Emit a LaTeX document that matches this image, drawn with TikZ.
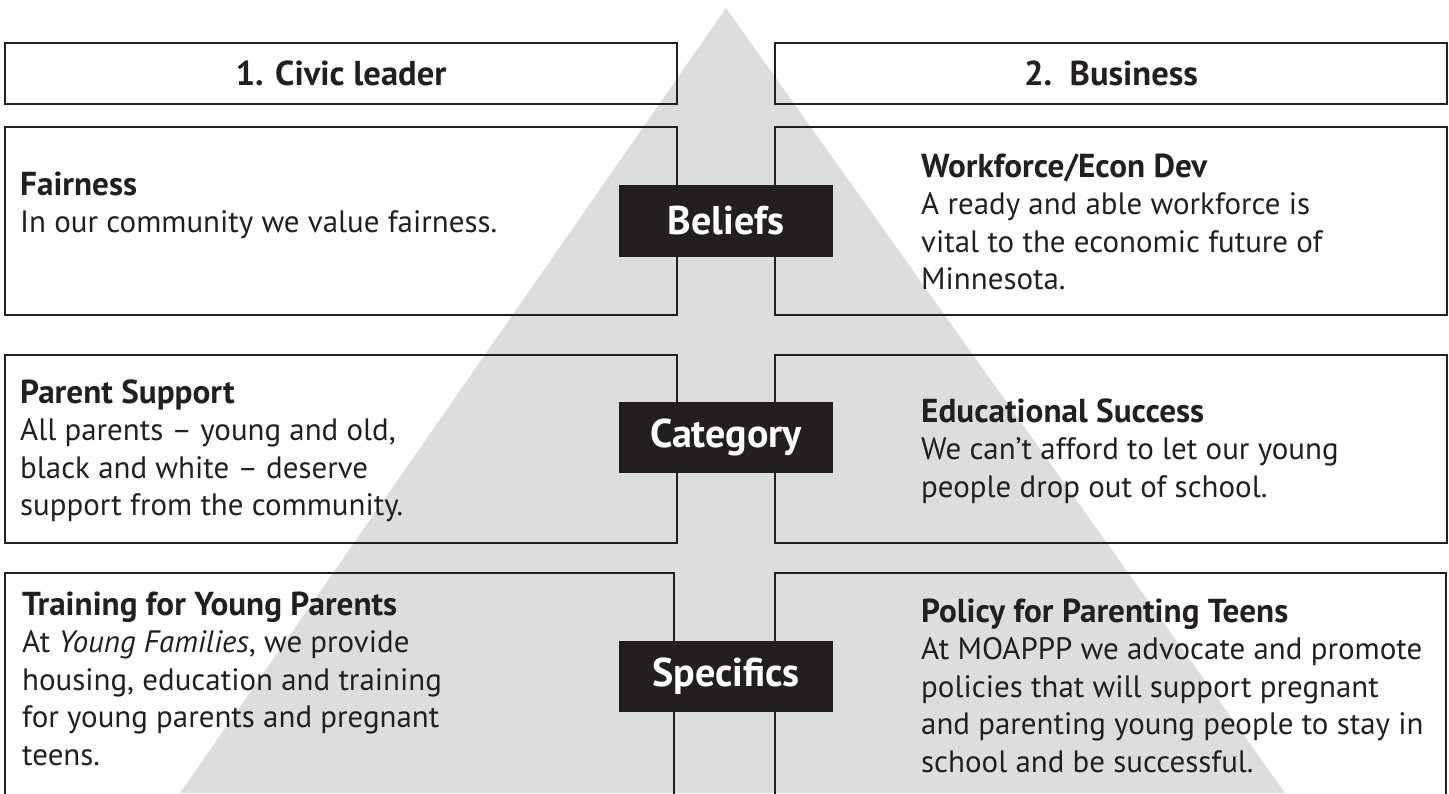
\documentclass[tikz,border=0pt]{standalone}
\usepackage{fontspec}
\setmainfont{PT Sans}
\definecolor{ink}{HTML}{231F20}
\definecolor{pyr}{HTML}{DCDDDF}
\newlength\calw
\newcommand\calib[4]{\settowidth\calw{\normalfont\fontsize{10pt}{12pt}\selectfont #2#3}\pgfmathsetmacro#1{10*#4/\calw}}
\newcommand\bodyfont{\normalfont\fontsize{\bsz pt}{37.6pt}\selectfont}
\newcommand\headfont{\normalfont\bfseries\fontsize{\hsz pt}{37.6pt}\selectfont}
\newcommand\labfont{\normalfont\bfseries\fontsize{\lsz pt}{40pt}\selectfont}
\newcommand\hdrfont{\normalfont\bfseries\fontsize{\tsz pt}{40pt}\selectfont}
\newcommand\blk[1]{\vtop{\baselineskip=37.6pt\lineskiplimit=-50pt\lineskip=0pt #1}}
\newcommand\hdl[1]{\hbox{\headfont #1}}
\newcommand\bdl[1]{\hbox{\bodyfont #1}}
\begin{document}
\calib\bsz{}{In our community we value fairness.}{477}%
\calib\hsz{\bfseries}{Training for Young Parents}{375}%
\calib\lsz{\bfseries}{Category}{152}%
\calib\tsz{\bfseries}{1. Civic leader}{211}%
\begin{tikzpicture}[x=1pt,y=-1pt,
  box/.style={draw=ink,line width=2pt,inner sep=0pt},
  lab/.style={fill=ink,text=white,minimum width=214pt,inner sep=0pt,font=\labfont},
  txt/.style={anchor=base west,inner sep=0pt,text=ink},
  hdr/.style={anchor=center,inner sep=0pt,text=ink,font=\hdrfont}]
\useasboundingbox (0,0) rectangle (1449,793);
\clip (0,0) rectangle (1449,793);
% pyramid
\fill[pyr] (726,8) -- (1285,793) -- (180,793) -- cycle;
% boxes
\node[box,minimum width=672pt,minimum height=61pt] (h1) at (341,73.5) {};
\node[box,minimum width=672pt,minimum height=61pt] (h2) at (1111,73.5) {};
\node[box,minimum width=672pt,minimum height=188pt] (b1) at (341,221) {};
\node[box,minimum width=672pt,minimum height=188pt] (b2) at (1111,221) {};
\node[box,minimum width=672pt,minimum height=188pt] (c1) at (341,449) {};
\node[box,minimum width=672pt,minimum height=188pt] (c2) at (1111,449) {};
\node[box,minimum width=669pt,minimum height=267pt] (s1) at (339.5,706.5) {};
\node[box,minimum width=671pt,minimum height=267pt] (s2) at (1110.5,706.5) {};
% headers
\node[hdr] (t1) at (h1.center) {1. Civic leader};
\node[hdr] (t2) at (h2.center) {2.\ \ Business};
% labels
\node[lab,minimum height=72pt] (lb) at (726,221) {Beliefs};
\node[lab,minimum height=71pt] (lc) at (726,437.5) {Category};
\node[lab,minimum height=71pt] (ls) at (726,676.5) {Specifics};
% texts
\node[txt] (x1) at (20,195) {\blk{\hdl{Fairness}\bdl{In our community we value fairness.}}};
\node[txt] (x2) at (921,177) {\blk{\hdl{Workforce/Econ Dev}\bdl{A ready and able workforce is}\bdl{vital to the economic future of}\bdl{Minnesota.}}};
\node[txt] (x3) at (20,403) {\blk{\hdl{Parent Support}\bdl{All parents – young and old,}\bdl{black and white – deserve}\bdl{support from the community.}}};
\node[txt] (x4) at (921,422) {\blk{\hdl{Educational Success}\bdl{We can’t afford to let our young}\bdl{people drop out of school.}}};
\node[txt] (x5) at (22,615) {\blk{\hdl{Training for Young Parents}\bdl{At \textit{Young Families}, we provide}\bdl{housing, education and training}\bdl{for young parents and pregnant}\bdl{teens.}}};
\node[txt] (x6) at (921,622) {\blk{\hdl{Policy for Parenting Teens}\bdl{At MOAPPP we advocate and promote}\bdl{policies that will support pregnant}\bdl{and parenting young people to stay in}\bdl{school and be successful.}}};
\end{tikzpicture}
\end{document}
